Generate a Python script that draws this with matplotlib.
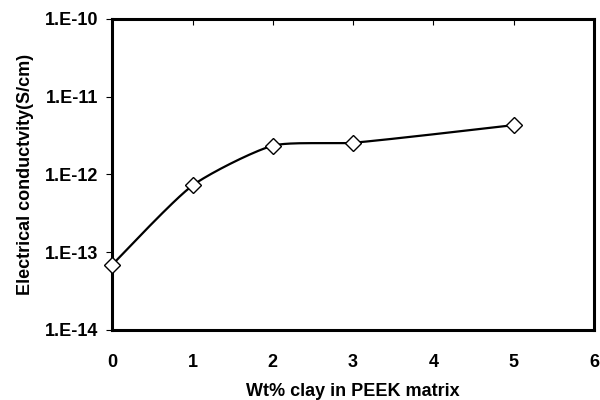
import numpy as np
import matplotlib.pyplot as plt

plt.rcParams['font.family'] = ['Liberation Sans', 'DejaVu Sans']
plt.rcParams['font.weight'] = 'bold'

clay_wt = [0, 1, 2, 3, 5]
conductivity = [6.9e-14, 7.2e-13, 2.34e-12, 2.55e-12, 4.3e-12]
y_ticks = [1e-14, 1e-13, 1e-12, 1e-11, 1e-10]
y_tick_labels = ['1.E-14', '1.E-13', '1.E-12', '1.E-11', '1.E-10']
x_ticks = [0, 1, 2, 3, 4, 5, 6]


def smooth_line(xs, ys, n=40, k=0.65):
    # excel-style smoothed line: bezier segments, control points scaled by
    # neighbouring segment lengths (worked out in screen-ish units)
    sx_ = 80.3
    sy_ = 77.75
    px = np.array(xs, dtype=float) * sx_
    py = np.log10(np.array(ys, dtype=float)) * sy_
    n_pts = len(px)
    d = np.hypot(np.diff(px), np.diff(py))
    outx, outy = [], []
    t = np.linspace(0, 1, n)
    for i in range(n_pts - 1):
        p1 = np.array([px[i], py[i]])
        p2 = np.array([px[i + 1], py[i + 1]])
        if i == 0:
            c1 = p1 + (p2 - p1) * k / 6
        else:
            p0 = np.array([px[i - 1], py[i - 1]])
            c1 = p1 + (p2 - p0) * d[i] / (d[i - 1] + d[i]) * k / 3
        if i == n_pts - 2:
            c2 = p2 - (p2 - p1) * k / 6
        else:
            p3 = np.array([px[i + 2], py[i + 2]])
            c2 = p2 - (p3 - p1) * d[i] / (d[i] + d[i + 1]) * k / 3
        b = ((1 - t) ** 3)[:, None] * p1 + (3 * (1 - t) ** 2 * t)[:, None] * c1 \
            + (3 * (1 - t) * t ** 2)[:, None] * c2 + (t ** 3)[:, None] * p2
        outx.extend(b[:, 0])
        outy.extend(b[:, 1])
    return np.array(outx) / sx_, 10 ** (np.array(outy) / sy_)


fig = plt.figure(figsize=(6, 4), dpi=100)
ax = fig.add_axes([0.187, 0.175, 0.803, 0.778])

sx, sy = smooth_line(clay_wt, conductivity)
ax.plot(sx, sy, color='black', linewidth=1.6)
ax.plot(clay_wt, conductivity, linestyle='none', marker='D', markersize=8.5,
        markerfacecolor='white', markeredgecolor='black', markeredgewidth=1.0,
        clip_on=False, zorder=5)

ax.set_yscale('log')
ax.set_ylim(1e-14, 1e-10)
ax.set_xlim(0, 6)
ax.set_yticks(y_ticks)
ax.set_yticklabels(y_tick_labels)
ax.minorticks_off()
ax.set_xticks(x_ticks)

ax.tick_params(axis='x', bottom=False, top=True, direction='in', length=4, width=0.8,
               labelbottom=True, labelsize=13, pad=17)
ax.tick_params(axis='y', direction='out', length=4, width=0.8, labelsize=13, pad=6)

for s in ax.spines.values():
    s.set_linewidth(2.2)

ax.set_xlabel('Wt% clay in PEEK matrix', fontsize=13, fontweight='bold', labelpad=9)
ax.set_ylabel('Electrical conductvity(S/cm)', fontsize=13, fontweight='bold', labelpad=8)

fig.savefig('out.png', dpi=100)
